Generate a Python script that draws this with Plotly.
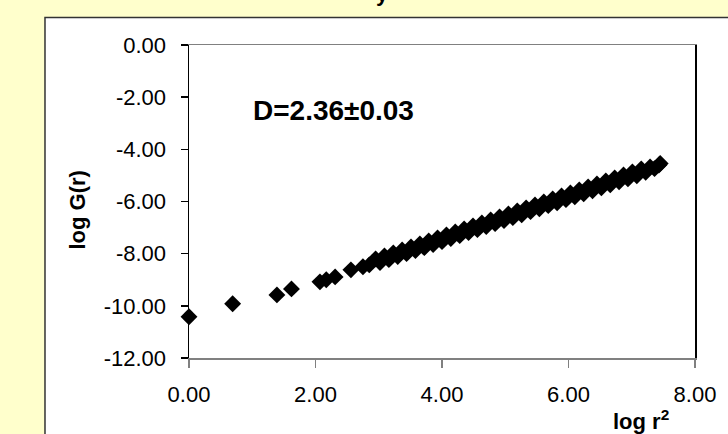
import plotly.graph_objects as go

# ---- data ----
log_r2 = [0.00, 0.69, 1.39, 1.62, 2.07, 2.17, 2.31, 2.56, 2.75, 2.85,
          2.95, 3.02, 3.09, 3.16, 3.23, 3.30, 3.37, 3.44, 3.51, 3.58,
          3.65, 3.72, 3.79, 3.86, 3.93, 4.00, 4.07, 4.14, 4.21, 4.28,
          4.35, 4.42, 4.49, 4.56, 4.63, 4.70, 4.77, 4.84, 4.91, 4.98,
          5.05, 5.12, 5.19, 5.26, 5.33, 5.40, 5.47, 5.54, 5.61, 5.68,
          5.75, 5.82, 5.89, 5.96, 6.03, 6.10, 6.17, 6.24, 6.31, 6.38,
          6.45, 6.52, 6.59, 6.66, 6.73, 6.80, 6.87, 6.94, 7.01, 7.08,
          7.15, 7.22, 7.29, 7.36, 7.43, 7.45]
log_G = [-10.42, -9.92, -9.58, -9.35, -9.08, -9.00, -8.89, -8.62, -8.50, -8.43,
         -8.20, -8.34, -8.09, -8.23, -7.97, -8.11, -7.86, -8.00, -7.74, -7.88,
         -7.63, -7.77, -7.51, -7.65, -7.40, -7.54, -7.28, -7.42, -7.17, -7.31,
         -7.05, -7.19, -6.94, -7.08, -6.82, -6.96, -6.71, -6.85, -6.59, -6.73,
         -6.48, -6.62, -6.36, -6.51, -6.25, -6.39, -6.13, -6.28, -6.02, -6.16,
         -5.90, -6.05, -5.79, -5.93, -5.67, -5.82, -5.56, -5.70, -5.44, -5.59,
         -5.33, -5.47, -5.21, -5.36, -5.10, -5.24, -4.98, -5.13, -4.87, -5.01,
         -4.75, -4.88, -4.68, -4.74, -4.60, -4.54]

x_tickvals = [0, 2, 4, 6, 8]
x_ticktext = ["0.00", "2.00", "4.00", "6.00", "8.00"]
y_tickvals = [0, -2, -4, -6, -8, -10, -12]
y_ticktext = ["0.00", "-2.00", "-4.00", "-6.00", "-8.00", "-10.00", "-12.00"]

annotation_text = "D=2.36±0.03"
x_title = "log r<sup>2</sup>"
y_title = "log G(r)"

FONT = "Liberation Sans, Arial, sans-serif"

fig = go.Figure()
fig.add_trace(go.Scatter(
    x=log_r2, y=log_G, mode="markers",
    marker=dict(symbol="diamond", size=13, color="black", line=dict(width=0)),
    cliponaxis=False, showlegend=False, hoverinfo="skip",
))

L, R, T, B = 189, 26, 45, 76
W, H = 728, 434
pw, ph = W - L - R, H - T - B

def px_x(px):
    return (px - L) / pw

def px_y(py):
    return (H - B - py) / ph

fig.update_layout(
    width=W, height=H,
    margin=dict(l=L, r=R, t=T, b=B, pad=0),
    paper_bgcolor="#FFFFCC",
    plot_bgcolor="white",
    font=dict(family=FONT, size=22, color="black"),
    xaxis=dict(range=[0, 8], tickvals=x_tickvals, ticktext=x_ticktext,
               showgrid=False, zeroline=False, showline=True, linecolor="#808080",
               linewidth=1.5, mirror=True, ticks="outside", ticklen=8,
               tickcolor="#808080", tickwidth=1.5, ticklabelstandoff=8,
               tickfont=dict(size=22, family=FONT)),
    yaxis=dict(range=[-12, 0], tickvals=y_tickvals, ticktext=y_ticktext,
               showgrid=False, zeroline=False, showline=True, linecolor="black",
               linewidth=1.5, mirror=True, ticks="outside", ticklen=7,
               tickcolor="black", tickwidth=1.5, ticklabelstandoff=10,
               tickfont=dict(size=22, family=FONT)),
    shapes=[dict(type="rect", xref="paper", yref="paper", layer="below",
                 x0=px_x(43), x1=px_x(760), y0=px_y(470), y1=px_y(17.5),
                 fillcolor="white", line=dict(color="#333333", width=1.5))],
    annotations=[
        dict(text=annotation_text, xref="paper", yref="paper",
             x=px_x(335), y=px_y(111), xanchor="center", yanchor="middle",
             showarrow=False, font=dict(size=28, family=FONT, color="black", weight="bold")),
        dict(text=y_title, xref="paper", yref="paper",
             x=px_x(75), y=px_y(210), xanchor="center", yanchor="middle",
             textangle=-90, showarrow=False,
             font=dict(size=22, family=FONT, color="black", weight="bold")),
        dict(text=x_title, xref="paper", yref="paper",
             x=px_x(647), y=px_y(420), xanchor="center", yanchor="middle",
             showarrow=False, font=dict(size=22, family=FONT, color="black", weight="bold")),
        dict(text="y", xref="paper", yref="paper",
             x=px_x(385), y=px_y(8), xanchor="center", yanchor="bottom",
             showarrow=False, font=dict(size=22, family=FONT, color="black", weight="bold")),
    ],
)

fig.write_html("out.html",
               config={"displayModeBar": False, "staticPlot": True},
               post_script="document.body.style.margin='0';document.body.style.overflow='hidden';")
